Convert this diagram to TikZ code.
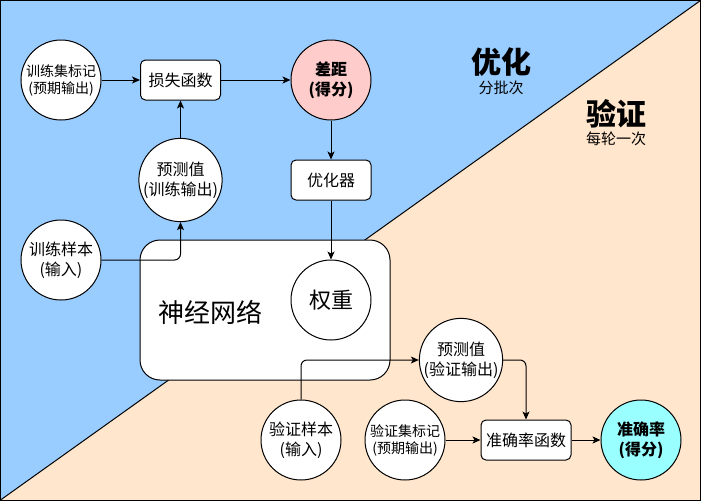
\documentclass[tikz,border=0pt]{standalone}
\usepackage{fontspec}
\setmainfont{Noto Sans CJK SC}
\usetikzlibrary{arrows.meta}
\definecolor{bgblue}{HTML}{99CCFF}
\definecolor{bgpeach}{HTML}{FFE6CC}
\definecolor{pinkfill}{HTML}{FFCCCC}
\definecolor{cyanfill}{HTML}{99FFFF}
\tikzset{
  circ/.style={circle, draw, fill=white, minimum size=80pt, inner sep=0pt, align=center, font=\fontsize{16}{20}\selectfont},
  scirc/.style={circ, font=\fontsize{14}{17}\selectfont},
  bcirc/.style={circ, font=\fontsize{16}{20}\selectfont\bfseries},
  box/.style={rectangle, rounded corners=5pt, draw, fill=white, minimum width=80pt, minimum height=40pt, inner sep=0pt, align=center, font=\fontsize{16}{19}\selectfont},
  arr/.style={-{Stealth[length=8pt,width=7pt,inset=2pt]}, line width=1pt},
  every node/.style={text=black}
}
\begin{document}
\begin{tikzpicture}[x=1pt,y=-1pt,line width=1pt]
\useasboundingbox (0,0) rectangle (701,501);
% background
\fill[bgblue] (0.5,0.5) -- (700.5,0.5) -- (0.5,500.5) -- cycle;
\fill[bgpeach] (700.5,0.5) -- (700.5,500.5) -- (0.5,500.5) -- cycle;
\draw (0.5,500) -- (700.5,0.5);
\draw (0.75,0.75) rectangle (700.25,500.25);
% titles
\node[font=\fontsize{30}{32}\selectfont\bfseries] (t1) at (501,62) {优化};
\node[font=\fontsize{15}{17}\selectfont] (t1s) at (501,88) {分批次};
\node[font=\fontsize{30}{32}\selectfont\bfseries] (t2) at (616,114) {验证};
\node[font=\fontsize{15}{17}\selectfont] (t2s) at (616,139) {每轮一次};
% neural network box
\node[draw, fill=white, rounded corners=20pt, minimum width=250pt, minimum height=140pt, inner sep=0pt] (nn) at (265,310) {};
\node[font=\fontsize{26}{30}\selectfont] (nnt) at (210,312) {神经网络};
\node[circ, font=\fontsize{22}{26}\selectfont] (w) at (331,300) {权重};
% upper nodes
\node[scirc] (lab) at (61,80) {训练集标记\\(预期输出)};
\node[box] (loss) at (180.5,80) {损失函数};
\node[bcirc, fill=pinkfill] (gap) at (331,80) {差距\\(得分)};
\node[box] (opt) at (331,180) {优化器};
\node[circ] (ptr) at (180.5,180) {预测值\\(训练输出)};
\node[circ] (trs) at (61,260) {训练样本\\(输入)};
% lower nodes
\node[circ] (vs) at (301,440) {验证样本\\(输入)};
\node[circ] (pv) at (461,360) {预测值\\(验证输出)};
\node[scirc] (vl) at (405,440) {验证集标记\\(预期输出)};
\node[box, minimum width=90pt] (af) at (526,440) {准确率函数};
\node[bcirc, fill=cyanfill] (acc) at (641,440) {准确率\\(得分)};
% connectors
\draw[arr] (lab) -- (loss);
\draw[arr] (loss) -- (gap);
\draw[arr] (gap) -- (opt);
\draw[arr] (opt) -- (w);
\draw[arr] (ptr) -- (loss);
\draw[arr, rounded corners=6pt] (trs.east) -| (ptr.south);
\draw[arr, rounded corners=6pt] (vs.north) |- (pv.west);
\draw[arr, rounded corners=6pt] (pv.east) -| (af.north);
\draw[arr] (vl) -- (af);
\draw[arr] (af) -- (acc);
\end{tikzpicture}
\end{document}
